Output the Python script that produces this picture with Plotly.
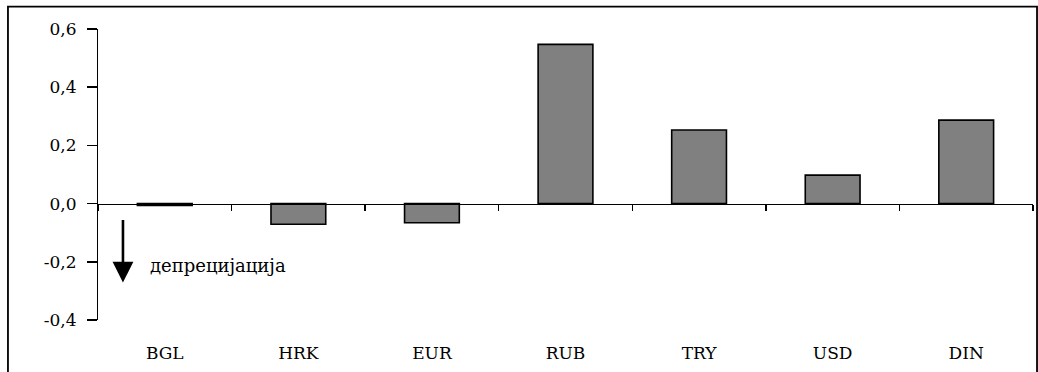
import plotly.graph_objects as go

categories = ["BGL", "HRK", "EUR", "RUB", "TRY", "USD", "DIN"]
values = [-0.006, -0.071, -0.066, 0.547, 0.253, 0.098, 0.287]
y_tickvals = [-0.4, -0.2, 0.0, 0.2, 0.4, 0.6]
y_ticktext = ["-0,4", "-0,2", "0,0", "0,2", "0,4", "0,6"]
note_text = "депрецијација"

FONT = "DejaVu Serif"
Y_RANGE = [-0.4, 0.6]

fig = go.Figure()
fig.add_trace(go.Bar(
    x=categories, y=values,
    marker=dict(color="#808080", line=dict(color="black", width=1.6)),
    xaxis="x", yaxis="y", showlegend=False, hoverinfo="skip",
))
# invisible trace carrying the zero-crossing x axis and the tick-mark y axis
fig.add_trace(go.Scatter(
    x=categories, y=[0] * len(categories), mode="markers",
    marker=dict(opacity=0), xaxis="x2", yaxis="y2",
    showlegend=False, hoverinfo="skip",
))

fig.update_layout(
    width=1038, height=372,
    margin=dict(l=98, r=5, t=29, b=52, autoexpand=False),
    paper_bgcolor="white", plot_bgcolor="white",
    bargap=0.59,
    font=dict(family=FONT, size=17, color="black"),
    xaxis=dict(
        type="category", categoryorder="array", categoryarray=categories,
        range=[-0.5, 6.5], showline=False, showgrid=False, zeroline=False,
        ticks="outside", ticklen=18, tickcolor="rgba(0,0,0,0)",
        tickfont=dict(family=FONT, size=17, color="black"), automargin=False,
    ),
    xaxis2=dict(
        type="category", categoryorder="array", categoryarray=categories,
        range=[-0.5, 6.5], overlaying="x", anchor="free", position=0.4,
        side="bottom", showline=True, linecolor="black", linewidth=1.2,
        ticks="outside", ticklen=6, tickwidth=1.5, tickcolor="black",
        tickson="boundaries", showticklabels=False, showgrid=False, zeroline=False,
        automargin=False,
    ),
    yaxis=dict(
        range=Y_RANGE, tickvals=y_tickvals, ticktext=y_ticktext,
        showline=False, ticks="outside", ticklen=17, tickcolor="rgba(0,0,0,0)",
        showgrid=False, zeroline=False, automargin=False,
        tickfont=dict(family=FONT, size=17, color="black"),
    ),
    yaxis2=dict(
        range=Y_RANGE, tickvals=y_tickvals, overlaying="y", anchor="x", side="left",
        showline=True, linecolor="black", linewidth=1.5,
        ticks="outside", ticklen=10, tickwidth=1.5, tickcolor="black",
        showticklabels=False, showgrid=False, zeroline=False, automargin=False,
    ),
    shapes=[dict(
        type="rect", xref="paper", yref="paper",
        x0=-0.0963, x1=1.0043, y0=-0.3, y1=1.0766,
        line=dict(color="black", width=1.8), fillcolor="rgba(0,0,0,0)", layer="below",
    )],
    annotations=[
        dict(
            x=0.0267, y=-0.271, xref="paper", yref="y", text="",
            showarrow=True, ax=0, ay=-64, arrowhead=2, arrowsize=1.6,
            arrowwidth=2.6, arrowcolor="black",
        ),
        dict(
            x=0.0535, y=-0.213, xref="paper", yref="y", text=note_text,
            showarrow=False, xanchor="left", yanchor="middle",
            font=dict(family=FONT, size=18, color="black"),
        ),
    ],
)

fig.write_html(
    "out.html",
    config={"displayModeBar": False, "staticPlot": True},
    post_script="document.body.style.margin='0px';",
)
